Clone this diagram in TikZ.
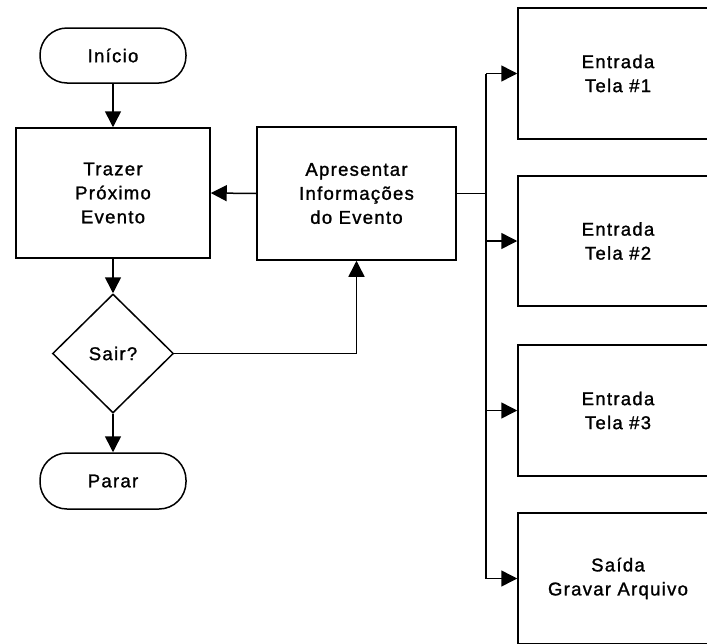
\documentclass[tikz,border=0pt]{standalone}
\usepackage{fontspec}
\newfontfamily\flowfont[LetterSpace=7,FakeBold=1.3]{Liberation Sans}
\usetikzlibrary{arrows.meta,shapes.geometric}
\tikzset{
  base/.style={draw, line width=1.5pt, inner sep=0pt, align=center,
    font=\flowfont\fontsize{18.5}{24}\selectfont},
  term/.style={base, rounded corners=27pt, minimum height=55pt},
  proc/.style={base, minimum width=196pt, minimum height=131pt},
  decis/.style={base, diamond, aspect=1, minimum width=121pt, minimum height=119pt},
  arr/.style={line width=1.5pt, -{Triangle[length=16pt,width=16pt]}},
  ln/.style={line width=1.5pt}
}
\begin{document}
\begin{tikzpicture}[x=1pt,y=-1pt]
\useasboundingbox (0,0) rectangle (707,643);
\clip (0,0) rectangle (707,643);
\node[term, minimum width=146pt] (inicio) at (113,55.5) {Início};
\node[proc, minimum width=194pt, minimum height=130pt] (trazer) at (113,193) {Trazer\\Próximo\\Evento};
\node[proc, minimum width=199pt, minimum height=133pt] (apres) at (356.5,193.5) {Apresentar\\Informações\\do Evento};
\node[decis] (sair) at (113,353.5) {Sair?};
\node[term, minimum width=146pt, minimum height=56pt] (parar) at (113,481) {Parar};
\node[proc, minimum width=200pt] (e1) at (618,73.5) {Entrada\\Tela \#1};
\node[proc, minimum width=200pt, minimum height=130pt] (e2) at (618,241) {Entrada\\Tela \#2};
\node[proc, minimum width=200pt] (e3) at (618,410.5) {Entrada\\Tela \#3};
\node[proc, minimum width=200pt] (e4) at (618,578.5) {Saída\\Gravar Arquivo};
\coordinate (bus) at (486,0);
\draw[arr] (inicio.south) -- (trazer.north);
\draw[arr] (apres.west) -- (trazer.east);
\draw[arr] (trazer.south) -- (sair.north);
\draw[arr] (sair.south) -- (parar.north);
\draw[arr] (sair.east) -| (apres.south);
\draw[ln] (apres.east) -- (apres.east -| bus);
\draw[ln] (bus |- e1.west) -- (bus |- e4.west);
\draw[arr] (bus |- e1.west) -- (e1.west);
\draw[arr] (bus |- e2.west) -- (e2.west);
\draw[arr] (bus |- e3.west) -- (e3.west);
\draw[arr] (bus |- e4.west) -- (e4.west);
\end{tikzpicture}
\end{document}
